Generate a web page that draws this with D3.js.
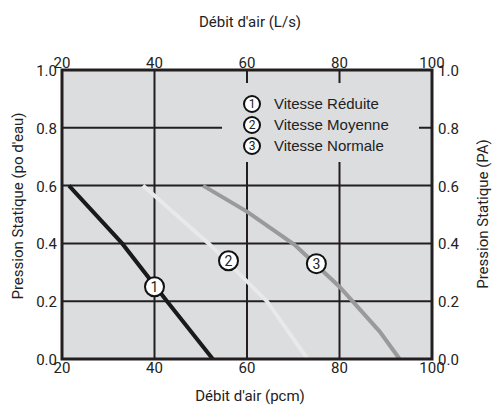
<!DOCTYPE html>
<html>
<head>
<meta charset="utf-8">
<script src="https://cdn.jsdelivr.net/npm/d3@7"></script>
<style>
  body { margin: 0; background: #fff; }
  text { font-family: Roboto, "DejaVu Sans", sans-serif; fill: #222; }
  .leg { font-family: "Liberation Sans", Arial, sans-serif; }
</style>
</head>
<body>
<div id="chart"></div>
<script>
// valeurs (debit pcm, pression po d'eau)
var xTicks = [20, 40, 60, 80, 100];
var yTicks = [0.0, 0.2, 0.4, 0.6, 0.8, 1.0];
var reduiteX = [21.5, 33.0, 42.7, 52.6];
var reduiteY = [0.6, 0.4, 0.2, 0.0];
var moyenneX = [37.5, 51.7, 64.3, 73.1];
var moyenneY = [0.6, 0.4, 0.2, 0.0];
var normaleX = [50.5, 60, 70.3, 80, 88.7, 93];
var normaleY = [0.6, 0.51, 0.395, 0.25, 0.095, 0.0];
var legendNames = ["Vitesse Réduite", "Vitesse Moyenne", "Vitesse Normale"];
// etiquettes sur les courbes : [numero, x, y]
var marks = [[1, 40, 0.25], [2, 56, 0.34], [3, 75, 0.33]];

var width = 493, height = 406;
// (pas "top" : c'est deja window.top)
var pL = 62, pR = 432, pT = 70, pB = 359;

var svg = d3.select("#chart").append("svg").attr("width", width).attr("height", height);

var x = d3.scaleLinear().domain([20, 100]).range([pL, pR]);
var y = d3.scaleLinear().domain([0, 1]).range([pB, pT]);

svg.append("rect").attr("x", pL).attr("y", pT)
  .attr("width", pR - pL).attr("height", pB - pT)
  .attr("fill", "#dcdddf");

// grille
var grid = svg.append("g").attr("stroke", "#231f20").attr("stroke-width", 2);
grid.selectAll(".gx").data(xTicks.slice(1, -1)).enter().append("line")
  .attr("x1", d => x(d)).attr("x2", d => x(d))
  .attr("y1", pT).attr("y2", pB);
grid.selectAll(".gy").data(yTicks.slice(1, -1)).enter().append("line")
  .attr("y1", d => y(d)).attr("y2", d => y(d))
  .attr("x1", pL).attr("x2", pR);

// fond de la legende qui coupe la grille
svg.append("rect").attr("x", 222).attr("y", 83).attr("width", 197).attr("height", 79)
  .attr("fill", "#dcdddf");

function serie(xs, ys) {
  return xs.map(function(v, i) { return [v, ys[i]]; });
}
var line = d3.line().x(d => x(d[0])).y(d => y(d[1]));

svg.append("path").datum(serie(moyenneX, moyenneY)).attr("d", line)
  .attr("fill", "none").attr("stroke", "#e9e9e9").attr("stroke-width", 4);
svg.append("path").datum(serie(normaleX, normaleY)).attr("d", line)
  .attr("fill", "none").attr("stroke", "#9a9a9a").attr("stroke-width", 4);
svg.append("path").datum(serie(reduiteX, reduiteY)).attr("d", line)
  .attr("fill", "none").attr("stroke", "#1a1a1a").attr("stroke-width", 4);

// cadre
svg.append("rect").attr("x", pL).attr("y", pT)
  .attr("width", pR - pL).attr("height", pB - pT)
  .attr("fill", "none").attr("stroke", "#231f20").attr("stroke-width", 3);

function rond(g, cx, cy, r, n, fs) {
  g.append("circle").attr("cx", cx).attr("cy", cy).attr("r", r)
    .attr("fill", "#fff").attr("stroke", "#111").attr("stroke-width", 2);
  g.append("text").attr("x", cx).attr("y", cy + fs * 0.36).attr("text-anchor", "middle")
    .attr("font-size", fs).text(n);
}
marks.forEach(function(m) { rond(svg, x(m[1]), y(m[2]), 9.5, m[0], 14); });

legendNames.forEach(function(name, i) {
  var cy = 104 + i * 21;
  rond(svg, 252, cy, 8, i + 1, 12);
  svg.append("text").attr("class", "leg").attr("x", 274).attr("y", cy + 5)
    .attr("font-size", 15).attr("fill", "#333").text(name);
});

// etiquettes des axes
var fmt = d3.format(".1f");
svg.selectAll(".tl").data(yTicks).enter().append("text")
  .attr("x", 57).attr("y", d => y(d) + 6).attr("text-anchor", "end")
  .attr("font-size", 15).text(fmt);
svg.selectAll(".tr").data(yTicks).enter().append("text")
  .attr("x", 438).attr("y", d => y(d) + 6).attr("text-anchor", "start")
  .attr("font-size", 15).text(fmt);
svg.selectAll(".tt").data(xTicks).enter().append("text")
  .attr("x", d => x(d)).attr("y", 68).attr("text-anchor", "middle")
  .attr("font-size", 15).text(d => d);
svg.selectAll(".tb").data(xTicks).enter().append("text")
  .attr("x", d => x(d)).attr("y", 373).attr("text-anchor", "middle")
  .attr("font-size", 15).text(d => d);

svg.append("text").attr("x", 250).attr("y", 27).attr("text-anchor", "middle")
  .attr("font-size", 15).text("Débit d'air (L/s)");
svg.append("text").attr("x", 250).attr("y", 401).attr("text-anchor", "middle")
  .attr("font-size", 15).text("Débit d'air (pcm)");
svg.append("text").attr("transform", "translate(23,206) rotate(-90)")
  .attr("text-anchor", "middle").attr("font-size", 15).text("Pression Statique (po d'eau)");
svg.append("text").attr("transform", "translate(488,214) rotate(-90)")
  .attr("text-anchor", "middle").attr("font-size", 15).text("Pression Statique (PA)");
</script>
</body>
</html>
